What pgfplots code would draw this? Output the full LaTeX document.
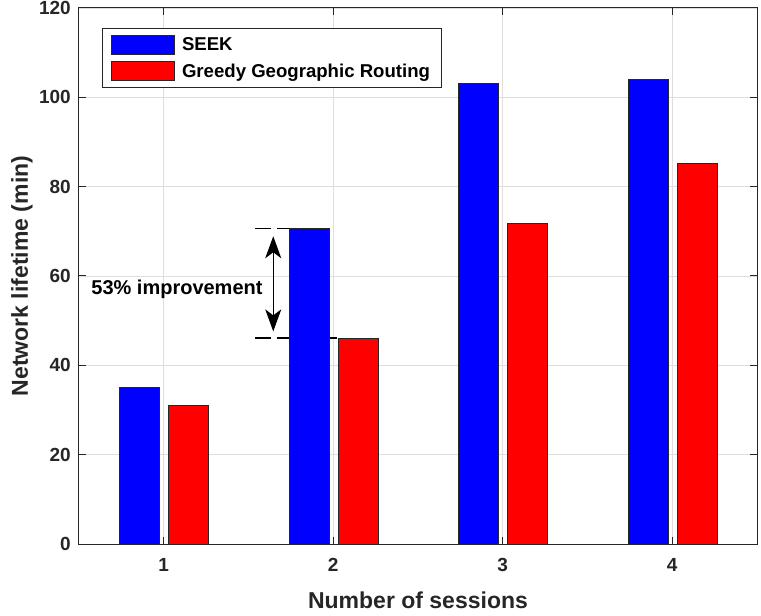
\documentclass[border=0pt]{standalone}
\usepackage{pgfplots}
\pgfplotsset{compat=1.18}
\usepackage{fontspec}
\setmainfont{Liberation Sans}
\usetikzlibrary{arrows.meta}
\definecolor{axgray}{gray}{0.15}
\definecolor{gridgray}{gray}{0.87}
\definecolor{seekblue}{RGB}{0,0,255}
\definecolor{ggrred}{RGB}{255,0,0}
\begin{document}
\begin{tikzpicture}
\begin{axis}[
  name=ax,
  scale only axis, width=678pt, height=536pt,
  xmin=0.5, xmax=4.5, ymin=0, ymax=120,
  xtick={1,2,3,4}, ytick={0,20,...,120},
  grid=major, major grid style={gridgray, line width=0.8pt},
  axis line style={axgray, line width=1pt},
  tick style={axgray, line width=1pt},
  tick align=inside, tick pos=both, major tick length=7pt,
  /pgf/number format/assume math mode=true,
  ticklabel style={font=\fontsize{19}{19}\selectfont\bfseries, text=black!85},
  yticklabel style={inner sep=0pt, xshift=-8pt},
  xticklabel style={inner sep=0pt, yshift=-14pt},
  xlabel={Number of sessions}, ylabel={Network lifetime (min)},
  label style={font=\fontsize{23}{23}\selectfont\bfseries, text=black!85},
  xlabel style={at={(axis description cs:0.5,-0.1045)}, anchor=center},
  ylabel style={at={(axis description cs:-0.0841,0.5)}, anchor=center},
  legend style={at={(0.0335,0.963)}, anchor=north west, draw=black!85,
    line width=1pt, font=\fontsize{18.6}{18.6}\selectfont\bfseries,
    inner xsep=9pt, inner ysep=7pt, row sep=6pt, column sep=5pt,
    cells={anchor=west}},
]
% reference levels for the improvement annotation
\addplot[forget plot, black, line width=1.2pt, dash pattern=on 16pt off 6pt]
  coordinates {(1.538,70.6) (1.74,70.6)};
\addplot[forget plot, black, line width=1.2pt, dash pattern=on 16pt off 6pt]
  coordinates {(1.538,46.1) (2.03,46.1)};
% SEEK
\addplot[ybar, bar width=40pt, bar shift=-24pt, fill=seekblue, draw=black!85, line width=0.8pt,
  legend image code/.code={\draw[fill=seekblue, draw=black!85, line width=0.8pt] (0pt,-9.5pt) rectangle (63pt,9.5pt);}]
  coordinates {(1,35.1) (2,70.6) (3,103.1) (4,104.1)};
\addlegendentry{SEEK}
% Greedy Geographic Routing
\addplot[ybar, bar width=40pt, bar shift=25pt, fill=ggrred, draw=black!85, line width=0.8pt,
  legend image code/.code={\draw[fill=ggrred, draw=black!85, line width=0.8pt] (0pt,-9.5pt) rectangle (63pt,9.5pt);}]
  coordinates {(1,31.1) (2,46.1) (3,71.8) (4,85.2)};
\addlegendentry{Greedy Geographic Routing}
\draw[{Stealth[length=22pt,width=16pt,inset=6pt]}-{Stealth[length=22pt,width=16pt,inset=6pt]}, line width=1.3pt, black]
  (axis cs:1.646,47.6) -- (axis cs:1.646,68.9);
\node[font=\fontsize{20}{20}\selectfont\bfseries, text=black] at (axis cs:1.078,57) {53\% improvement};
\end{axis}
\pgfresetboundingbox
\path ([xshift=-79pt,yshift=-71pt]ax.south west) rectangle ([xshift=4pt,yshift=8pt]ax.north east);
\end{tikzpicture}
\end{document}
